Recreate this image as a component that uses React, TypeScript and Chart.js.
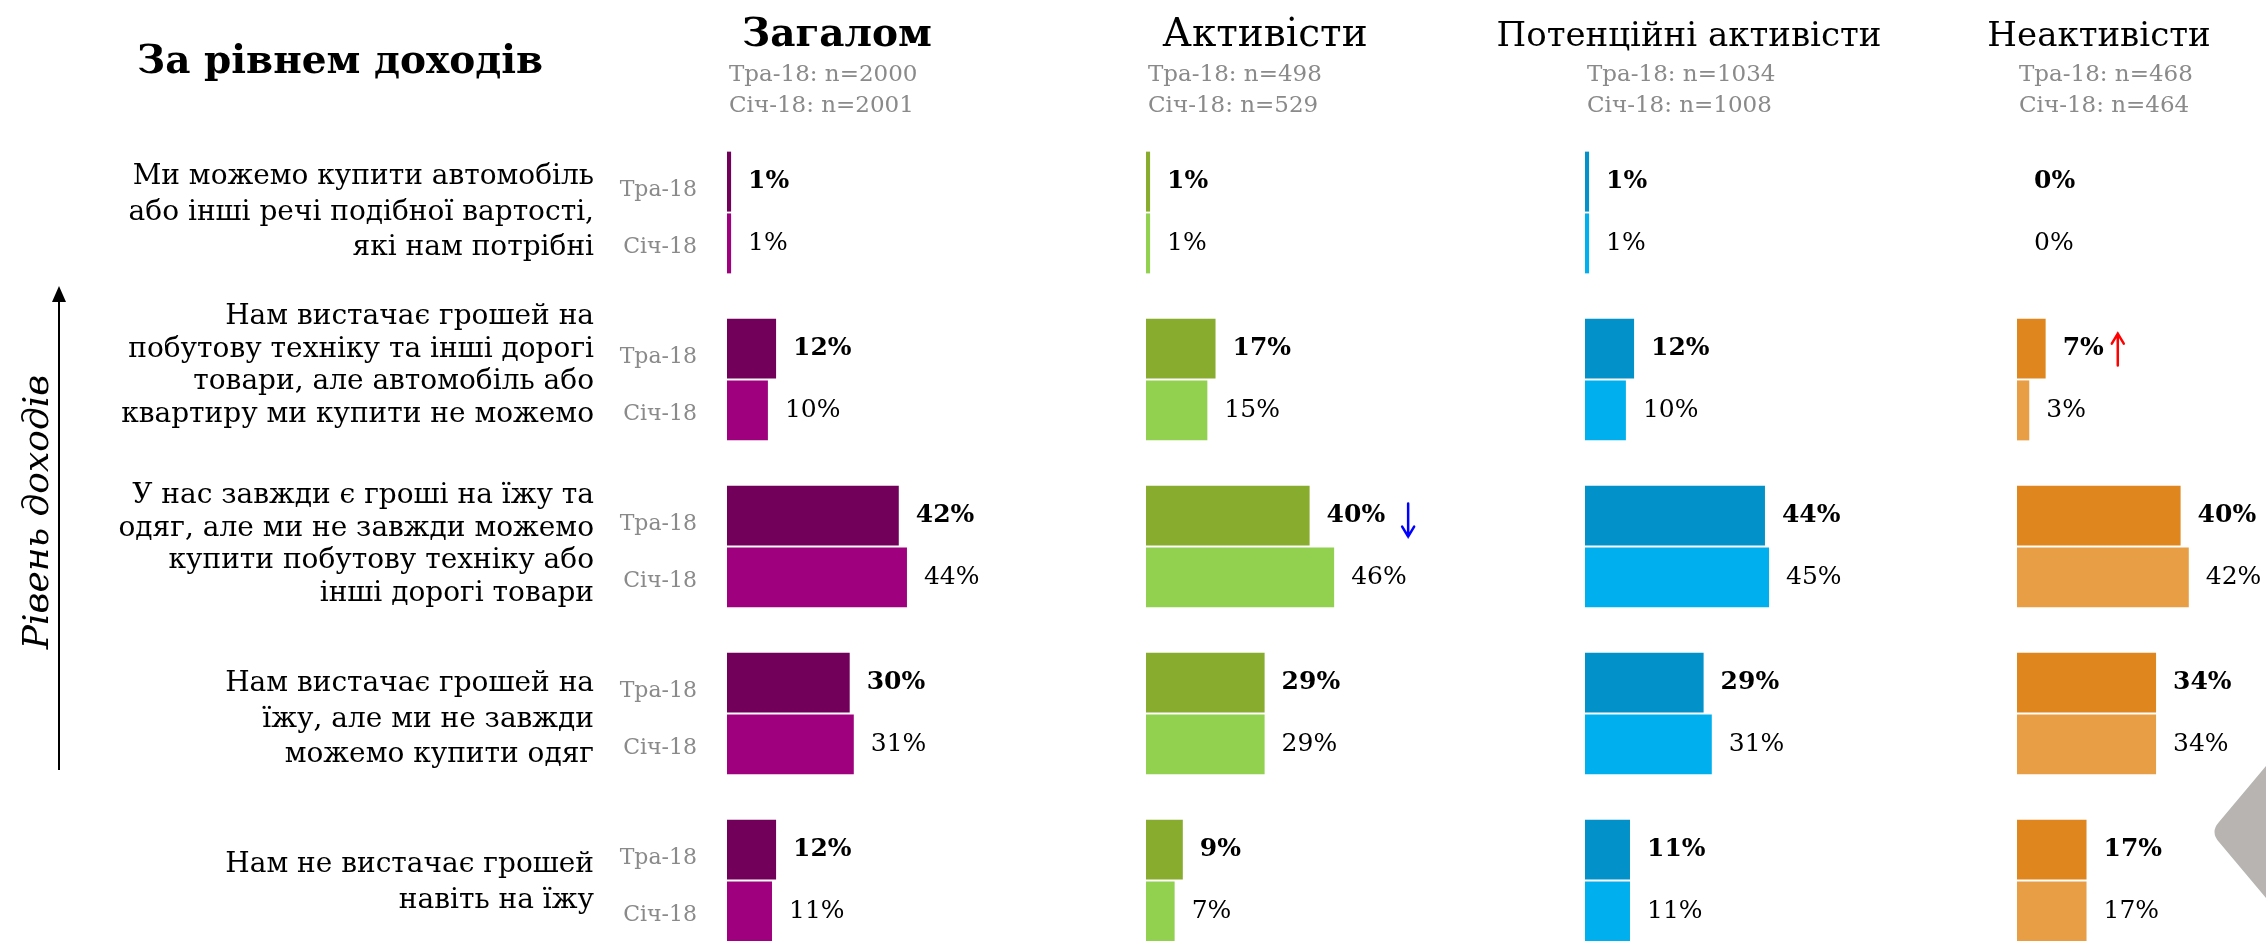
import React, { useEffect, useRef } from "react";
import { Chart, registerables } from "chart.js";

Chart.register(...registerables);

// ---------------- data ----------------
const categories: string[][] = [
  ["Ми можемо купити автомобіль", "або інші речі подібної вартості,", "які нам потрібні"],
  ["Нам вистачає грошей на", "побутову техніку та інші дорогі", "товари, але автомобіль або", "квартиру ми купити не можемо"],
  ["У нас завжди є гроші на їжу та", "одяг, але ми не завжди можемо", "купити побутову техніку або", "інші дорогі товари"],
  ["Нам вистачає грошей на", "їжу, але ми не завжди", "можемо купити одяг"],
  ["Нам не вистачає грошей", "навіть на їжу"],
];
const waves = ["Тра-18", "Січ-18"];
const groupNames = ["Загалом", "Активісти", "Потенційні активісти", "Неактивісти"];
const sampleSizesTra = [2000, 498, 1034, 468];
const sampleSizesSich = [2001, 529, 1008, 464];

const overallTra = [1, 12, 42, 30, 12];
const overallSich = [1, 10, 44, 31, 11];
const activeTra = [1, 17, 40, 29, 9];
const activeSich = [1, 15, 46, 29, 7];
const potentialTra = [1, 12, 44, 29, 11];
const potentialSich = [1, 10, 45, 31, 11];
const inactiveTra = [0, 7, 40, 34, 17];
const inactiveSich = [0, 3, 42, 34, 17];

// significant change of Тра-18 vs Січ-18: 1 = up, -1 = down
const overallChange = [0, 0, 0, 0, 0];
const activeChange = [0, 0, -1, 0, 0];
const potentialChange = [0, 0, 0, 0, 0];
const inactiveChange = [0, 1, 0, 0, 0];

const yAxisTitle = "Рівень доходів";
const mainTitle = "За рівнем доходів";

const traSeries = [overallTra, activeTra, potentialTra, inactiveTra];
const sichSeries = [overallSich, activeSich, potentialSich, inactiveSich];
const changeSeries = [overallChange, activeChange, potentialChange, inactiveChange];

// ---------------- styles / layout ----------------
const traColors = ["#72005A", "#88AC2E", "#0291C9", "#E0861F"];
const sichColors = ["#9E007E", "#92D050", "#00B0EE", "#E89E44"];
const FONT = '"DejaVu Serif", serif';
const WIDTH = 2266;
const VIEW_H = 941;
const CANVAS_H = 1000;
const PANEL_LEFT = [727, 1146, 1585, 2017];
const PX_PER_PCT = 4.09;
const PLOT_TOP = 129;
const PLOT_BOTTOM = 964;
const TITLE_CENTER_OFFSET = [110, 119, 104, 82];
const TITLE_FONT = ["bold 39px", "39px", "34px", "34px"];
const LABEL_DY = [0, -14, -2, 6, 2];

function drawArrow(ctx: CanvasRenderingContext2D, x: number, cy: number, dir: number) {
  ctx.save();
  ctx.strokeStyle = dir > 0 ? "#FF0000" : "#0000FF";
  ctx.lineWidth = 2.5;
  ctx.lineCap = "round";
  ctx.beginPath();
  if (dir > 0) {
    const top = cy - 15;
    ctx.moveTo(x, cy + 17);
    ctx.lineTo(x, top);
    ctx.moveTo(x - 6, top + 10);
    ctx.lineTo(x, top);
    ctx.lineTo(x + 6, top + 10);
  } else {
    const bottom = cy + 21;
    ctx.moveTo(x, cy - 12);
    ctx.lineTo(x, bottom);
    ctx.moveTo(x - 6, bottom - 10);
    ctx.lineTo(x, bottom);
    ctx.lineTo(x + 6, bottom - 10);
  }
  ctx.stroke();
  ctx.restore();
}

const overlayPlugin = {
  id: "overlay",
  afterDraw(chart: any) {
    const ctx: CanvasRenderingContext2D = chart.ctx;
    const area = chart.chartArea;
    const yScale = chart.scales.y;
    ctx.save();

    // main title
    ctx.fillStyle = "#000";
    ctx.font = `bold 39px ${FONT}`;
    ctx.textAlign = "left";
    ctx.textBaseline = "middle";
    ctx.fillText(mainTitle, 137, 63);

    // group headers
    groupNames.forEach((name, g) => {
      const xs = chart.scales["x" + g];
      const left = xs.left;
      ctx.fillStyle = "#000";
      ctx.font = `${TITLE_FONT[g]} ${FONT}`;
      ctx.textAlign = "center";
      ctx.textBaseline = "alphabetic";
      ctx.fillText(name, left + TITLE_CENTER_OFFSET[g], 46);
      ctx.fillStyle = "#8a8a8a";
      ctx.font = `23px ${FONT}`;
      ctx.textAlign = "left";
      ctx.textBaseline = "middle";
      ctx.fillText(`${waves[0]}: n=${sampleSizesTra[g]}`, left + 2, 75);
      ctx.fillText(`${waves[1]}: n=${sampleSizesSich[g]}`, left + 2, 106);
    });

    // category labels
    ctx.fillStyle = "#000";
    ctx.font = `28px ${FONT}`;
    ctx.textAlign = "right";
    ctx.textBaseline = "middle";
    categories.forEach((lines, i) => {
      const cy = yScale.getPixelForValue(i) + LABEL_DY[i];
      const n = lines.length;
      const step = n >= 4 ? 32.5 : 35.5;
      lines.forEach((t, j) => {
        ctx.fillText(t, area.left - 133, cy + (j - (n - 1) / 2) * step);
      });
    });

    // wave labels left of first panel
    ctx.fillStyle = "#8a8a8a";
    ctx.font = `22px ${FONT}`;
    ctx.textAlign = "right";
    [0, 1].forEach((d) => {
      const meta = chart.getDatasetMeta(d);
      meta.data.forEach((el: any) => {
        ctx.fillText(waves[d], area.left - 30, el.y + (d === 0 ? 9 : 4));
      });
    });

    // value labels
    chart.data.datasets.forEach((ds: any, d: number) => {
      const meta = chart.getDatasetMeta(d);
      const isTra = d % 2 === 0;
      const g = Math.floor(d / 2);
      meta.data.forEach((el: any, i: number) => {
        const txt = `${ds.data[i]}%`;
        ctx.font = `${isTra ? "bold " : ""}25px ${FONT}`;
        ctx.fillStyle = "#000";
        ctx.textAlign = "left";
        ctx.textBaseline = "middle";
        const x = el.x + 17;
        ctx.fillText(txt, x, el.y);
        const dir = isTra ? changeSeries[g][i] : 0;
        if (dir !== 0) {
          const w = ctx.measureText(txt).width;
          drawArrow(ctx, x + w + (dir < 0 ? 23 : 14), el.y, dir);
        }
      });
    });

    // vertical axis arrow + title
    ctx.strokeStyle = "#000";
    ctx.fillStyle = "#000";
    ctx.lineWidth = 2;
    ctx.beginPath();
    ctx.moveTo(59, 770);
    ctx.lineTo(59, 298);
    ctx.stroke();
    ctx.beginPath();
    ctx.moveTo(59, 286);
    ctx.lineTo(52, 302);
    ctx.lineTo(66, 302);
    ctx.closePath();
    ctx.fill();

    ctx.save();
    ctx.translate(48, 512);
    ctx.rotate(-Math.PI / 2);
    ctx.font = `italic 36px ${FONT}`;
    ctx.textAlign = "center";
    ctx.textBaseline = "alphabetic";
    ctx.fillText(yAxisTitle, 0, 0);
    ctx.restore();

    // decorative grey shape at the bottom-right edge
    ctx.fillStyle = "#b7b4b2";
    ctx.beginPath();
    ctx.moveTo(WIDTH, 766);
    ctx.lineTo(2219, 822);
    ctx.quadraticCurveTo(2210, 832, 2219, 842);
    ctx.lineTo(WIDTH, 898);
    ctx.closePath();
    ctx.fill();

    ctx.restore();
  },
};

export default function App() {
  const canvasRef = useRef<HTMLCanvasElement | null>(null);

  useEffect(() => {
    if (!canvasRef.current) return;

    const widths = PANEL_LEFT.map((l, i) => (i < PANEL_LEFT.length - 1 ? PANEL_LEFT[i + 1] : WIDTH) - l);

    const datasets: any[] = [];
    groupNames.forEach((_, g) => {
      datasets.push({
        label: `${groupNames[g]} ${waves[0]}`,
        data: traSeries[g],
        xAxisID: "x" + g,
        yAxisID: "y",
        stack: "tra",
        backgroundColor: traColors[g],
        borderWidth: 0,
        categoryPercentage: 0.74,
        barPercentage: 0.97,
      });
      datasets.push({
        label: `${groupNames[g]} ${waves[1]}`,
        data: sichSeries[g],
        xAxisID: "x" + g,
        yAxisID: "y",
        stack: "sich",
        backgroundColor: sichColors[g],
        borderWidth: 0,
        categoryPercentage: 0.74,
        barPercentage: 0.97,
      });
    });

    const scales: any = {
      y: {
        type: "category",
        display: false,
        offset: true,
        grid: { display: false },
      },
    };
    widths.forEach((w, g) => {
      scales["x" + g] = {
        type: "linear",
        axis: "x",
        position: "bottom",
        stack: "panels",
        stackWeight: w,
        min: 0,
        max: w / PX_PER_PCT,
        display: false,
        grid: { display: false },
      };
    });

    const chart = new Chart(canvasRef.current, {
      type: "bar",
      data: {
        labels: categories.map((c) => c.join(" ")),
        datasets,
      },
      options: {
        indexAxis: "y",
        animation: false,
        responsive: false,
        devicePixelRatio: 1,
        layout: {
          padding: {
            left: PANEL_LEFT[0],
            right: 0,
            top: PLOT_TOP,
            bottom: CANVAS_H - PLOT_BOTTOM,
          },
        },
        plugins: {
          legend: { display: false },
          tooltip: { enabled: false },
          title: { display: false },
        },
        scales,
      } as any,
      plugins: [overlayPlugin],
    });

    return () => chart.destroy();
  }, []);

  return (
    <div
      style={{
        position: "fixed",
        left: 0,
        top: 0,
        width: WIDTH,
        height: VIEW_H,
        overflow: "hidden",
        background: "#ffffff",
      }}
    >
      <canvas
        ref={canvasRef}
        width={WIDTH}
        height={CANVAS_H}
        style={{ display: "block", width: WIDTH, height: CANVAS_H }}
      />
    </div>
  );
}
